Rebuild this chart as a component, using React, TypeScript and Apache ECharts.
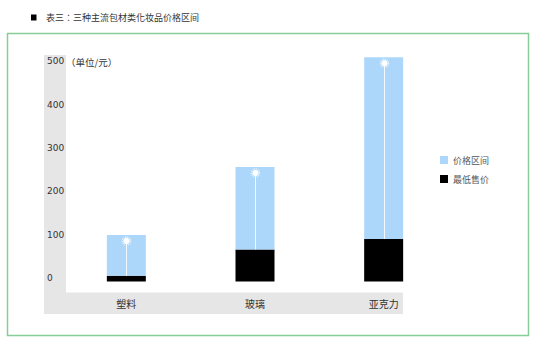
import React, { useEffect, useRef } from "react";
import * as echarts from "echarts";

const categories = ["塑料", "玻璃", "亚克力"];
const minPrices = [13, 74, 98];
const maxPrices = [107, 264, 517];
const yTicks = [0, 100, 200, 300, 400, 500];
const titleText = "表三：三种主流包材类化妆品价格区间";
const unitText = "（单位/元）";
const seriesNames = ["价格区间", "最低售价"];

const FONT = "'Noto Sans CJK SC', 'Noto Sans', sans-serif";
const FONT_TC = "'Noto Sans CJK TC', 'Noto Sans', sans-serif";

export default function App() {
  const ref = useRef<HTMLDivElement>(null);
  useEffect(() => {
    if (!ref.current) return;
    const chart = echarts.init(ref.current, undefined, { renderer: "svg" });
    const rangeData = maxPrices.map((v, i) => v - minPrices[i]);
    const customData = categories.map((_, i) => [i, minPrices[i], maxPrices[i]]);
    chart.setOption({
      animation: false,
      backgroundColor: "#ffffff",
      textStyle: { fontFamily: FONT },
      grid: { left: 62, top: 56, width: 386, height: 225.5, containLabel: false },
      legend: {
        data: seriesNames,
        orient: "vertical",
        left: 440,
        top: 155.5,
        padding: 0,
        itemWidth: 8,
        itemHeight: 8,
        itemGap: 10,
        icon: "rect",
        textStyle: { fontSize: 9, color: "#555", fontFamily: FONT },
      },
      xAxis: {
        type: "category",
        data: categories,
        axisLine: { show: false },
        axisTick: { show: false },
        axisLabel: { margin: 17, fontSize: 10, color: "#333", fontFamily: FONT },
      },
      yAxis: {
        type: "value",
        min: 0,
        max: 520,
        interval: 100,
        axisLine: { show: false },
        axisTick: { show: false },
        splitLine: { show: false },
        axisLabel: {
          align: "left",
          verticalAlign: "bottom",
          lineHeight: 7,
          margin: 15,
          fontSize: 9,
          color: "#333",
          fontFamily: "'DejaVu Sans', sans-serif",
          formatter: (v: number) => (yTicks.indexOf(v) >= 0 ? String(v) : ""),
        },
      },
      graphic: [
        {
          type: "rect",
          z: -1,
          shape: { x: 7.5, y: 33.5, width: 521, height: 302 },
          style: { fill: "none", stroke: "#86cd98", lineWidth: 1.5 },
        },
        {
          type: "rect",
          z: -1,
          shape: { x: 44, y: 55, width: 22, height: 259 },
          style: { fill: "#e6e6e6" },
        },
        {
          type: "rect",
          z: -1,
          shape: { x: 44, y: 292.5, width: 359, height: 21.5 },
          style: { fill: "#e6e6e6" },
        },
        {
          type: "rect",
          shape: { x: 31, y: 14.5, width: 5.5, height: 6 },
          style: { fill: "#000" },
        },
        {
          type: "text",
          x: 46,
          y: 17.7,
          style: {
            text: titleText,
            fontSize: 9,
            fill: "#333",
            fontFamily: FONT_TC,
            verticalAlign: "middle",
          },
        },
        {
          type: "text",
          x: 66,
          y: 62,
          style: {
            text: unitText,
            fontSize: 9.5,
            fill: "#333",
            fontFamily: FONT_TC,
            verticalAlign: "middle",
          },
        },
      ],
      series: [
        {
          name: "最低售价",
          type: "bar",
          stack: "price",
          barWidth: 39,
          itemStyle: { color: "#000000" },
          data: minPrices,
        },
        {
          name: "价格区间",
          type: "bar",
          stack: "price",
          barWidth: 39,
          itemStyle: { color: "#acd7fb" },
          data: rangeData,
        },
        {
          name: "indicator",
          type: "custom",
          z: 5,
          encode: { x: 0, y: [1, 2] },
          data: customData,
          renderItem: (params: any, api: any) => {
            const i = api.value(0);
            const bottom = api.coord([i, api.value(1)]);
            const top = api.coord([i, api.value(2)]);
            const x = Math.round(bottom[0]) + 0.5;
            const dotY = top[1] + 6;
            return {
              type: "group",
              children: [
                {
                  type: "line",
                  shape: { x1: x, y1: dotY, x2: x, y2: bottom[1] },
                  style: { stroke: "rgba(255,255,255,0.85)", lineWidth: 1 },
                },
                {
                  type: "circle",
                  shape: { cx: x, cy: dotY, r: 3.2 },
                  style: { fill: "#ffffff" },
                },
                {
                  type: "circle",
                  shape: { cx: x, cy: dotY, r: 4.2 },
                  style: {
                    fill: "none",
                    stroke: "rgba(255,255,255,0.8)",
                    lineWidth: 1.2,
                    lineDash: [1, 1],
                  },
                },
              ],
            };
          },
        },
      ],
    });
    return () => chart.dispose();
  }, []);
  return (
    <div
      ref={ref}
      style={{ position: "fixed", left: 0, top: 0, width: 538, height: 354, background: "#fff" }}
    />
  );
}
